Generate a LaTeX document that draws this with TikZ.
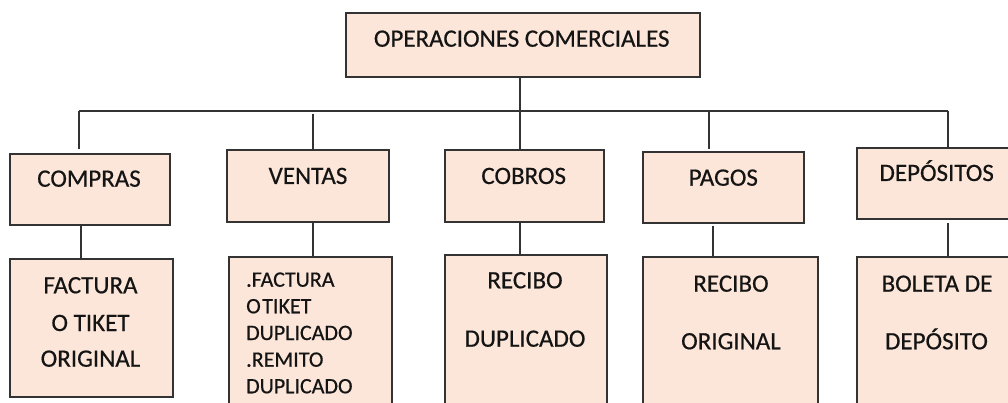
\documentclass[tikz,border=0pt]{standalone}
\usepackage{fontspec}
\setmainfont{Carlito}[FakeBold=0.5]
\definecolor{boxfill}{HTML}{FCE6D9}
\definecolor{boxline}{HTML}{333333}
\definecolor{txt}{HTML}{141414}
\begin{document}
\begin{tikzpicture}[x=1pt,y=-1pt,
  box/.style={draw=boxline,fill=boxfill,line width=1.7pt,rectangle,inner sep=0pt,outer sep=0pt,anchor=north west},
  lbl/.style={text=txt,inner sep=0pt,anchor=base,font=\fontsize{25}{30}\selectfont},
  lst/.style={text=txt,inner sep=0pt,anchor=base west,font=\fontsize{22}{26}\selectfont},
  conn/.style={draw=boxline,line width=1.7pt}]
\useasboundingbox (0,0) rectangle (1008,403);
\clip (0,0) rectangle (1008,403);
\fill[white] (0,0) rectangle (1008,403);
% boxes
\node[box,minimum width=354pt,minimum height=64pt] (top) at (346,12.7) {};
\node[box,minimum width=159.7pt,minimum height=70.7pt] (compras) at (10.3,154.3) {};
\node[box,minimum width=161.4pt,minimum height=71.7pt] (ventas) at (227.3,150) {};
\node[box,minimum width=159.6pt,minimum height=71.7pt] (cobros) at (444.7,150) {};
\node[box,minimum width=161.3pt,minimum height=71.6pt] (pagos) at (643,151.7) {};
\node[box,minimum width=170pt,minimum height=70.7pt] (depositos) at (856.7,148.3) {};
\node[box,minimum width=163pt,minimum height=137.7pt] (factura) at (10.3,259) {};
\node[box,minimum width=162.4pt,minimum height=170pt] (ventasdoc) at (229.3,257.3) {};
\node[box,minimum width=162pt,minimum height=170pt] (cobrosdoc) at (445,255) {};
\node[box,minimum width=175.3pt,minimum height=170pt] (pagosdoc) at (643,257.3) {};
\node[box,minimum width=170pt,minimum height=170pt] (depdoc) at (857.3,257.3) {};
% bus coordinates
\coordinate (xC) at (519.7,111);
\coordinate (bL) at (79,111);
\coordinate (bR) at (947.7,111);
\coordinate (xV) at (313.3,114);
\coordinate (xP) at (708.7,111);
\coordinate (xComp) at (81,0);
\coordinate (xPd) at (713.3,0);
% connectors
\draw[conn] (top.south -| xC) -- (cobros.north -| xC);
\draw[conn] (bL) -- (bR);
\draw[conn,shorten >=5pt] (bL) -- (compras.north -| bL);
\draw[conn] (xV) -- (ventas.north -| xV);
\draw[conn,shorten >=2.5pt] (xP) -- (pagos.north -| xP);
\draw[conn,shorten >=1.3pt] (bR) -- (depositos.north -| bR);
\draw[conn] (compras.south -| xComp) -- (factura.north -| xComp);
\draw[conn] (ventas.south -| xV) -- (ventasdoc.north -| xV);
\draw[conn] (cobros.south -| xC) -- (cobrosdoc.north -| xC);
\draw[conn,shorten <=2.7pt] (pagos.south -| xPd) -- (pagosdoc.north -| xPd);
\draw[conn,shorten <=4pt] (depositos.south -| bR) -- (depdoc.north -| bR);
% labels
\node[lbl] (tTop) at (521.7,46.7) {OPERACIONES COMERCIALES};
\node[lbl] (tComp) at (89,186.7) {COMPRAS};
\node[lbl] (tVen) at (308,184) {VENTAS};
\node[lbl] (tCob) at (523.7,184) {COBROS};
\node[lbl] (tPag) at (723.3,185.7) {PAGOS};
\node[lbl] (tDep) at (936.7,181) {DEPÓSITOS};
\node[lbl] (tF1) at (90.5,293.3) {FACTURA};
\node[lbl] (tF2) at (90.5,331) {O TIKET};
\node[lbl] (tF3) at (90.5,366.7) {ORIGINAL};
\node[lst] (tV1) at (246,286.7) {.FACTURA};
\node[lst] (tV2) at (246,313.3) {O\hspace{1.5pt}TIKET};
\node[lst] (tV3) at (246,340) {DUPLICADO};
\node[lst] (tV4) at (246,366.7) {.REMITO};
\node[lst] (tV5) at (246,393.3) {DUPLICADO};
\node[lbl] (tC1) at (525,288.3) {RECIBO};
\node[lbl] (tC2) at (525,346.7) {DUPLICADO};
\node[lbl] (tP1) at (731,291.7) {RECIBO};
\node[lbl] (tP2) at (731,349.3) {ORIGINAL};
\node[lbl] (tD1) at (937,291.7) {BOLETA DE};
\node[lbl] (tD2) at (936.5,349.3) {DEPÓSITO};
\end{tikzpicture}
\end{document}
